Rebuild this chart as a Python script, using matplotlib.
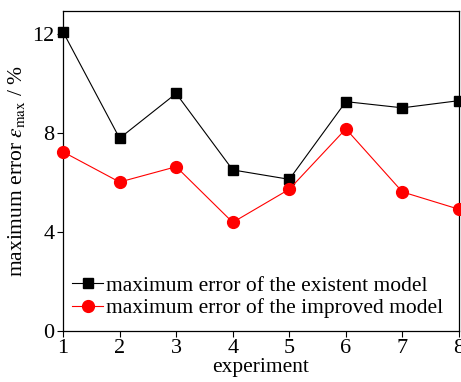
import matplotlib as mpl
import matplotlib.pyplot as plt

experiment = [1, 2, 3, 4, 5, 6, 7, 8]
err_existent = [12.09, 7.79, 9.60, 6.51, 6.13, 9.27, 9.02, 9.31]
err_improved = [7.24, 6.02, 6.64, 4.39, 5.73, 8.17, 5.62, 4.92]

mpl.rcParams.update({
  'font.family': 'Liberation Serif',
  'mathtext.fontset': 'stix',
  'font.size': 15.5
})

fig = plt.figure( figsize=( 4.61, 3.82 ), dpi=100 )
ax = fig.add_axes( [ 0.1367, 0.1335, 0.859, 0.8375 ] )

ax.plot( experiment, err_existent, color='black', lw=0.8, marker='s', ms=7.5,
         label='maximum error of the existent model', clip_on=False, zorder=3 )
ax.plot( experiment, err_improved, color='red', lw=0.8, marker='o', ms=8.5,
         label='maximum error of the improved model', clip_on=False, zorder=3 )

ax.set_xlim( 1, 8 )
ax.set_ylim( 0, 12.93 )
ax.set_xticks( experiment )
ax.set_yticks( [ 0, 4, 8, 12 ] )
ax.tick_params( direction='out', length=4, width=0.8, labelsize=16, pad=2 )
for s in ax.spines.values():
  s.set_linewidth( 0.9 )

ax.set_xlabel( 'experiment', fontsize=15.5, labelpad=0 )
ax.set_ylabel( r'maximum error $\varepsilon_{\rm max}$ / %', fontsize=15.5, labelpad=4 )

ax.legend( loc='lower left', bbox_to_anchor=( -0.01, 0.0 ), frameon=False,
           fontsize=15.5, handlelength=1.45, handletextpad=0.15,
           labelspacing=0.1, borderaxespad=0.2 )

plt.savefig( 'out.png' )
